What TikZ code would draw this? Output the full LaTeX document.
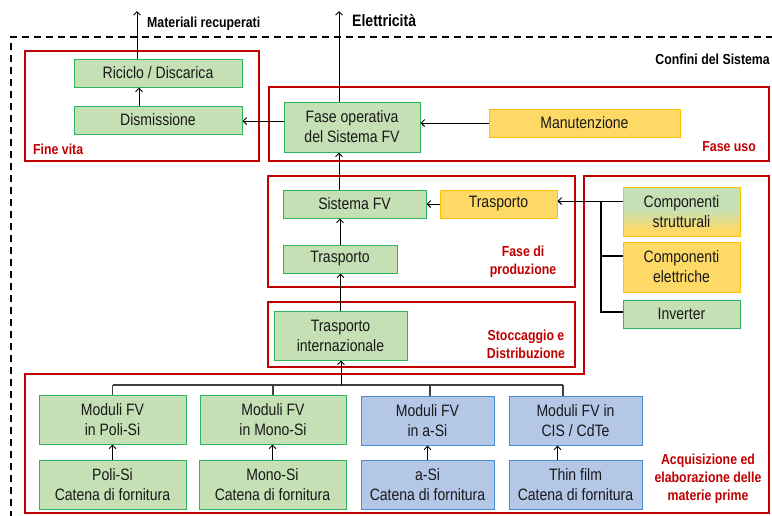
\documentclass[tikz,border=0pt]{standalone}
\usepackage{fontspec}
\newfontfamily\nf[FakeStretch=0.85]{Liberation Sans}
\usetikzlibrary{arrows.meta}
\definecolor{gfill}{HTML}{C5E0B4}
\definecolor{gline}{HTML}{2DB55D}
\definecolor{ofill}{HTML}{FFD966}
\definecolor{oline}{HTML}{FFC000}
\definecolor{bfill}{HTML}{B4C7E7}
\definecolor{bline}{HTML}{4A8ED0}
\definecolor{rline}{HTML}{C00000}
\definecolor{tline}{HTML}{404040}
\pgfdeclareverticalshading{gtoo}{100bp}{color(0bp)=(ofill); color(31bp)=(ofill); color(52bp)=(gfill); color(100bp)=(gfill)}
\tikzset{
  boxbase/.style={draw, line width=1pt, align=center, inner sep=0pt,
    font=\nf\fontsize{16.5}{20}\selectfont, text=black!90},
  gbox/.style={boxbase, fill=gfill, draw=gline},
  obox/.style={boxbase, fill=ofill, draw=oline},
  bbox/.style={boxbase, fill=bfill, draw=bline},
  sz/.style 2 args={minimum width=#1pt, minimum height=#2pt},
  redbox/.style={draw=rline, line width=1.6pt},
  redlabel/.style={text=rline, align=center, inner sep=0pt,
    font=\nf\bfseries\fontsize{14.5}{18}\selectfont},
  blklabel/.style={text=black, inner sep=0pt,
    font=\nf\bfseries\fontsize{14.5}{18}\selectfont},
  arr/.style={-{Straight Barb[length=3.5pt,width=7pt]}, line width=0.9pt, black},
  tree/.style={line width=1.3pt, tline},
}
\begin{document}
\begin{tikzpicture}[x=1pt,y=-1pt]
\useasboundingbox (0,0) rectangle (772,515);
% system boundary
\draw[dashed, dash pattern=on 7pt off 5pt, line width=1.3pt] (11,530) -- (11,37) -- (790,37);
% red phase boxes
\draw[redbox] (25,51) rectangle (259,161);
\draw[redbox] (269,87) rectangle (769,161);
\draw[redbox] (268,176) rectangle (575,287);
\draw[redbox] (268,302) rectangle (575,367);
\draw[redbox] (25,374) -- (584,374) -- (584,176) -- (769,176) -- (769,513) -- (25,513) -- cycle;
% nodes
\node[gbox, sz={168}{28}] (ric) at (158,73) {Riciclo / Discarica};
\node[gbox, sz={168}{28}] (dis) at (158,120) {Dismissione};
\node[gbox, sz={136}{50}] (fop) at (352,127) {Fase operativa\\del Sistema FV};
\node[obox, sz={191}{28}] (man) at (584.5,123) {Manutenzione};
\node[gbox, sz={143}{28}] (sfv) at (354.5,204) {Sistema FV};
\node[obox, sz={117}{28}] (tro) at (498.5,204) {Trasporto};
\node[gbox, sz={114}{28}] (trg) at (340,259) {Trasporto};
\node[gbox, sz={133}{49}] (tri) at (340.5,335.5) {Trasporto\\internazionale};
\node[boxbase, draw=oline, shading=gtoo, sz={117}{49}] (cs) at (681.5,211.5) {Componenti\\strutturali};
\node[obox, sz={117}{50}] (ce) at (681.5,267) {Componenti\\elettriche};
\node[gbox, sz={117}{28}] (inv) at (681.5,314) {Inverter};
\node[gbox, sz={147}{49}] (mp) at (112.5,419.5) {Moduli FV\\in Poli-Si};
\node[gbox, sz={147}{49}] (cp) at (112.5,484.5) {Poli-Si\\Catena di fornitura};
\node[gbox, sz={146}{49}] (mm) at (273,419.5) {Moduli FV\\in Mono-Si};
\node[gbox, sz={147}{49}] (cm) at (272.5,484.5) {Mono-Si\\Catena di fornitura};
\node[bbox, sz={133}{49}] (ma) at (427.5,420.5) {Moduli FV\\in a-Si};
\node[bbox, sz={133}{49}] (ca) at (427.5,484.5) {a-Si\\Catena di fornitura};
\node[bbox, sz={133}{49}] (mc) at (575.5,420.5) {Moduli FV in\\CIS / CdTe};
\node[bbox, sz={133}{49}] (cc) at (575.5,484.5) {Thin film\\Catena di fornitura};
% labels
\node[redlabel, anchor=west] (lfv) at (33,149) {Fine vita};
\node[redlabel, anchor=east] (lfu) at (756,147) {Fase uso};
\node[redlabel] (lfp) at (523,262) {Fase di\\produzione};
\node[redlabel] (lsd) at (526,344) {Stoccaggio e\\Distribuzione};
\node[redlabel] (lac) at (708,479) {Acquisizione ed\\elaborazione delle\\materie prime};
\node[blklabel, anchor=east] (lcs) at (770,59) {Confini del Sistema};
\node[blklabel, anchor=west] (lmr) at (147,24) {Materiali recuperati};
\node[blklabel, anchor=west, font=\nf\bfseries\fontsize{16.5}{20}\selectfont] (lel) at (352,21) {Elettricità};
% coordinates
\coordinate (mrtop) at (137,11);
\coordinate (eltop) at (339,11);
\coordinate (cpj) at (601,201);
\coordinate (tj) at (341,385);
% arrows
\draw[arr] (mrtop |- ric.north) -- (mrtop);
\draw[arr] (mrtop |- dis.north) ++(2,0) -- ([xshift=2pt]mrtop |- ric.south);
\draw[arr] (fop.west |- 0,121) -- (dis.east |- 0,121);
\draw[arr] (man.west) -- (man.west -| fop.east);
\draw[arr] (eltop |- fop.north) -- (eltop);
\draw[arr] (eltop |- sfv.north) -- (eltop |- fop.south);
\draw[arr] (trg.north) -- (trg.north |- sfv.south);
\draw[arr] (tri.north) -- (tri.north |- trg.south);
\draw[arr] (tro.west) -- (sfv.east);
\draw[arr, line width=1pt] (cs.west |- cpj) -- (tro.east |- cpj);
\draw[line width=1.1pt] (cpj) -- (601,312) -- (inv.west |- 0,312);
\draw[line width=1.1pt] (601,256) -- (ce.west |- 0,256);
% bottom tree
\draw[tree] (mp.north |- tj) -- (563,385);
\draw[tree] (mp.north |- tj) -- (mp.north);
\draw[tree] (mm.north |- tj) -- (mm.north);
\draw[tree] (430,385) -- (430,395.5);
\draw[tree] (563,385) -- (563,395.5);
\draw[arr] (tj) -- (tj |- tri.south);
\draw[arr] (cp.north) -- (mp.south);
\draw[arr] (cm.north) -- (cm.north |- mm.south);
\draw[arr] (ca.north) -- (ma.south);
\draw[arr] ([xshift=-18pt]cc.north) -- ([xshift=-18pt]mc.south);
\end{tikzpicture}
\end{document}
